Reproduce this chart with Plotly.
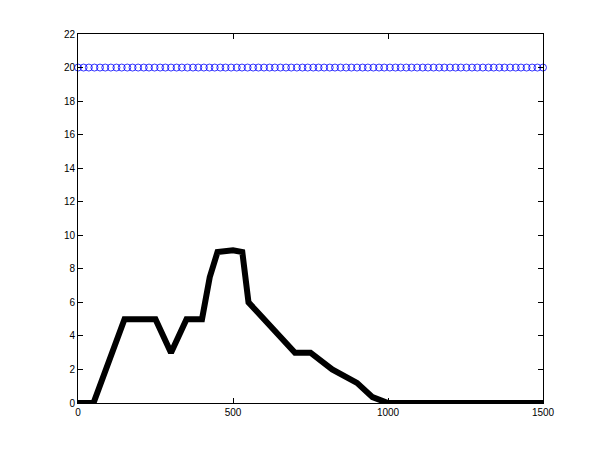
import plotly.graph_objects as go

# black profile line
line_x = [0, 50, 150, 250, 300, 350, 400, 425, 450, 500, 530, 550, 575, 700, 750, 820, 900, 950, 1000, 1500]
line_y = [0, 0, 5, 5, 3, 5, 5, 7.5, 9, 9.1, 9, 6, 5.5, 3, 3, 2, 1.2, 0.35, 0, 0]

# blue circle series (constant level)
circ_x = [0, 18, 35, 53, 71, 88, 106, 124, 141, 159, 176, 194, 212, 229, 247, 265, 282,
          300, 318, 335, 353, 371, 388, 406, 424, 441, 459, 476, 494, 512, 529, 547, 565, 582,
          600, 618, 635, 653, 671, 688, 706, 724, 741, 759, 776, 794, 812, 829, 847, 865, 882,
          900, 918, 935, 953, 971, 988, 1006, 1024, 1041, 1059, 1076, 1094, 1112, 1129, 1147, 1165, 1182,
          1200, 1218, 1235, 1253, 1271, 1288, 1306, 1324, 1341, 1359, 1376, 1394, 1412, 1429, 1447, 1465, 1482,
          1500]
circ_y = [20] * len(circ_x)

x_ticks = [0, 500, 1000, 1500]
y_ticks = [0, 2, 4, 6, 8, 10, 12, 14, 16, 18, 20, 22]

fig = go.Figure()
fig.add_trace(go.Scatter(
    x=circ_x, y=circ_y, mode="markers",
    marker=dict(symbol="circle-open", size=7, color="#0000ff", line=dict(width=0.8)),
    cliponaxis=False,
))
fig.add_trace(go.Scatter(
    x=line_x, y=line_y, mode="lines",
    line=dict(color="black", width=6),
    cliponaxis=False,
))

axis_style = dict(
    showgrid=False, zeroline=False,
    showline=True, linecolor="black", linewidth=1, mirror="ticks",
    ticks="inside", ticklen=5, tickwidth=1, tickcolor="black",
    tickfont=dict(family="Liberation Sans, Arial", size=10, color="black"),
)

# page body adds an 8px offset, so the figure is a bit smaller than the window
fig.update_layout(
    width=591, height=445,
    margin=dict(l=70, r=56, t=26, b=50),
    paper_bgcolor="white", plot_bgcolor="white",
    showlegend=False,
    xaxis=dict(range=[0, 1500], tickvals=x_ticks, **axis_style),
    yaxis=dict(range=[0, 22], tickvals=y_ticks, **axis_style),
)

fig.write_html("out.html")
